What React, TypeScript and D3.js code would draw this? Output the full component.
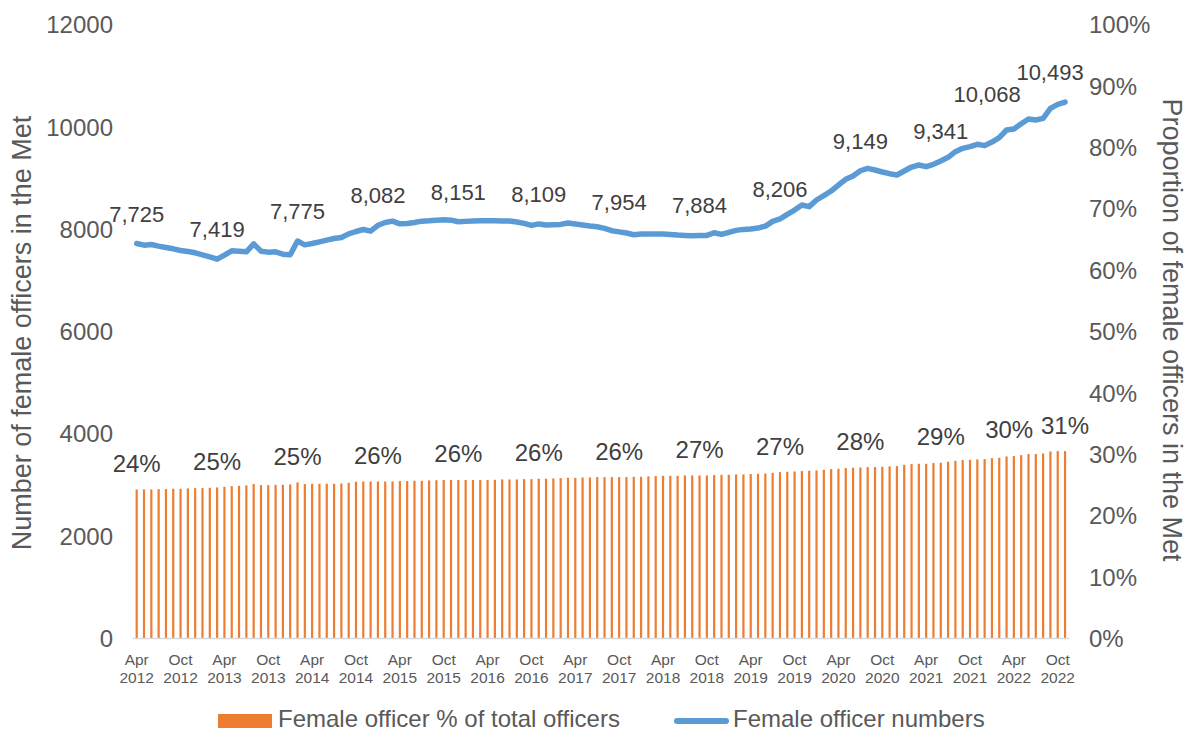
import { useEffect, useRef } from 'react';
import * as d3 from 'd3';

// Apr 2012 – Nov 2022, one entry per month
const months = d3.timeMonth.range(new Date(2012, 3, 1), new Date(2022, 11, 1));

const officerNumbers = [
  7725, 7694, 7707, 7674, 7648, 7622, 7589, 7570, 7544, 7505, 7466, 7419,
  7498, 7583, 7576, 7563, 7720, 7576, 7557, 7563, 7518, 7505, 7775, 7700,
  7726, 7759, 7792, 7824, 7844, 7915, 7961, 8000, 7968, 8082, 8137, 8163,
  8111, 8118, 8137, 8163, 8170, 8183, 8189, 8183, 8151, 8159, 8165, 8172,
  8172, 8172, 8165, 8165, 8146, 8120, 8080, 8109, 8087, 8093, 8100, 8126,
  8106, 8087, 8067, 8054, 8022, 7976, 7954, 7931, 7898, 7911, 7911, 7911,
  7911, 7904, 7891, 7885, 7878, 7884, 7885, 7937, 7904, 7944, 7983, 8002,
  8009, 8028, 8067, 8160, 8206, 8297, 8381, 8479, 8447, 8577, 8662, 8753,
  8870, 8981, 9046, 9149, 9196, 9164, 9125, 9092, 9066, 9144, 9222, 9262,
  9229, 9275, 9341, 9412, 9522, 9588, 9620, 9666, 9640, 9711, 9796, 9946,
  9966, 10068, 10161, 10142, 10174, 10370, 10448, 10493,
];

const femalePct = [
  24.30, 24.30, 24.30, 24.35, 24.35, 24.41, 24.41, 24.46, 24.51, 24.51, 24.57, 24.62,
  24.73, 24.84, 24.89, 24.95, 25.17, 25.00, 25.00, 25.06, 25.06, 25.11, 25.44, 25.17,
  25.22, 25.22, 25.22, 25.22, 25.27, 25.38, 25.55, 25.60, 25.60, 25.60, 25.60, 25.60,
  25.66, 25.66, 25.71, 25.71, 25.76, 25.79, 25.84, 25.84, 25.84, 25.84, 25.84, 25.84,
  25.84, 25.87, 25.93, 25.93, 25.93, 25.98, 25.98, 26.04, 26.04, 26.09, 26.14, 26.20,
  26.20, 26.25, 26.25, 26.31, 26.31, 26.31, 26.31, 26.31, 26.36, 26.36, 26.42, 26.47,
  26.52, 26.52, 26.52, 26.58, 26.58, 26.58, 26.58, 26.63, 26.69, 26.69, 26.74, 26.74,
  26.80, 26.85, 26.90, 27.01, 27.12, 27.18, 27.23, 27.29, 27.34, 27.39, 27.50, 27.61,
  27.67, 27.77, 27.83, 27.88, 27.94, 27.94, 27.99, 28.05, 28.10, 28.32, 28.43, 28.48,
  28.48, 28.59, 28.64, 28.81, 28.97, 29.08, 29.13, 29.19, 29.24, 29.40, 29.46, 29.68,
  29.73, 29.89, 30.06, 30.06, 30.16, 30.49, 30.55, 30.55,
];

// months that carry data labels
const labelIdx = [0, 11, 22, 33, 44, 55, 66, 77, 88, 99, 110, 121, 127];
const numberLabels = [7725, 7419, 7775, 8082, 8151, 8109, 7954, 7884, 8206, 9149, 9341, 10068, 10493];
const pctLabels = ['24%', '25%', '25%', '26%', '26%', '26%', '26%', '27%', '27%', '28%', '29%', '30%', '31%'];

const leftTicks = [0, 2000, 4000, 6000, 8000, 10000, 12000];
const rightTicks = [0, 10, 20, 30, 40, 50, 60, 70, 80, 90, 100];

const FONT = '"Liberation Sans", Arial, sans-serif';

export default function App() {
  const svgRef = useRef<SVGSVGElement>(null);

  useEffect(() => {
    if (!svgRef.current) return;
    const svg = d3.select(svgRef.current);
    svg.selectAll('*').remove();

    const x = d3.scaleBand<number>()
      .domain(d3.range(months.length))
      .range([133.05, 1068.7]);
    const cx = (i: number) => (x(i) as number) + x.bandwidth() / 2;

    const yLeft = d3.scaleLinear().domain([0, 12000]).range([638.5, 25]);
    const yRight = d3.scaleLinear().domain([0, 100]).range([638.5, 25]);

    const g = svg.append('g').style('font-family', FONT);

    // bars
    g.append('g')
      .selectAll('rect')
      .data(femalePct)
      .join('rect')
      .attr('x', (_, i) => cx(i) - 1.1)
      .attr('width', 2.2)
      .attr('y', d => yRight(d))
      .attr('height', d => yRight(0) - yRight(d))
      .attr('fill', '#ED7D31');

    // baseline
    g.append('line')
      .attr('x1', 133).attr('x2', 1069)
      .attr('y1', 638.5).attr('y2', 638.5)
      .attr('stroke', '#D9D9D9').attr('stroke-width', 1.3);

    // line
    const line = d3.line<number>()
      .x((_, i) => cx(i))
      .y(d => yLeft(d));
    g.append('path')
      .datum(officerNumbers)
      .attr('fill', 'none')
      .attr('stroke', '#5B9BD5')
      .attr('stroke-width', 5.5)
      .attr('stroke-linejoin', 'round')
      .attr('stroke-linecap', 'round')
      .attr('d', line);

    // left axis
    g.append('g')
      .selectAll('text')
      .data(leftTicks)
      .join('text')
      .attr('x', 113)
      .attr('y', d => yLeft(d))
      .attr('dy', '0.35em')
      .attr('text-anchor', 'end')
      .attr('font-size', 24)
      .attr('fill', '#595959')
      .text(d => String(d));

    // right axis
    g.append('g')
      .selectAll('text')
      .data(rightTicks)
      .join('text')
      .attr('x', 1089)
      .attr('y', d => yRight(d))
      .attr('dy', '0.35em')
      .attr('text-anchor', 'start')
      .attr('font-size', 24)
      .attr('fill', '#595959')
      .text(d => `${d}%`);

    // x axis labels (every 6 months)
    const fmtMonth = d3.timeFormat('%b');
    const fmtYear = d3.timeFormat('%Y');
    const xTicks = d3.range(0, months.length, 6);
    const xt = g.append('g')
      .selectAll('text')
      .data(xTicks)
      .join('text')
      .attr('text-anchor', 'middle')
      .attr('font-size', 15.5)
      .attr('fill', '#595959');
    xt.append('tspan').attr('x', d => cx(d)).attr('y', 665).text(d => fmtMonth(months[d]));
    xt.append('tspan').attr('x', d => cx(d)).attr('y', 683).text(d => fmtYear(months[d]));

    // axis titles
    g.append('text')
      .attr('transform', 'translate(31,333) rotate(-90)')
      .attr('text-anchor', 'middle')
      .attr('font-size', 27)
      .attr('fill', '#595959')
      .text('Number of female officers in the Met');
    g.append('text')
      .attr('transform', 'translate(1163,330) rotate(90)')
      .attr('text-anchor', 'middle')
      .attr('font-size', 27)
      .attr('fill', '#595959')
      .text('Proportion of female officers in the Met');

    // data labels (last ones shifted left, as in the source chart)
    const numNudge: Record<number, number> = { 121: -34, 127: -15 };
    const pctNudge: Record<number, number> = { 121: -12 };
    const fmt = d3.format(',');

    g.append('g')
      .selectAll('text')
      .data(labelIdx)
      .join('text')
      .attr('x', (d) => cx(d) + (numNudge[d] || 0))
      .attr('y', (_, i) => yLeft(numberLabels[i]) - 22)
      .attr('text-anchor', 'middle')
      .attr('font-size', 22)
      .attr('fill', '#404040')
      .text((_, i) => fmt(numberLabels[i]));

    g.append('g')
      .selectAll('text')
      .data(labelIdx)
      .join('text')
      .attr('x', (d) => cx(d) + (pctNudge[d] || 0))
      .attr('y', d => yRight(femalePct[d]) - 17.5)
      .attr('text-anchor', 'middle')
      .attr('font-size', 24)
      .attr('fill', '#404040')
      .text((_, i) => pctLabels[i]);

    // legend
    const lg = g.append('g');
    lg.append('rect')
      .attr('x', 218).attr('y', 714)
      .attr('width', 54).attr('height', 14)
      .attr('fill', '#ED7D31');
    lg.append('text')
      .attr('x', 278).attr('y', 727)
      .attr('font-size', 24)
      .attr('fill', '#595959')
      .text('Female officer % of total officers');
    lg.append('line')
      .attr('x1', 677).attr('x2', 726)
      .attr('y1', 721).attr('y2', 721)
      .attr('stroke', '#5B9BD5')
      .attr('stroke-width', 6)
      .attr('stroke-linecap', 'round');
    lg.append('text')
      .attr('x', 733).attr('y', 727)
      .attr('font-size', 24)
      .attr('fill', '#595959')
      .text('Female officer numbers');
  }, []);

  return (
    <svg
      ref={svgRef}
      width={1193}
      height={731}
      style={{ position: 'absolute', left: 0, top: 0, background: '#fff' }}
    />
  );
}
